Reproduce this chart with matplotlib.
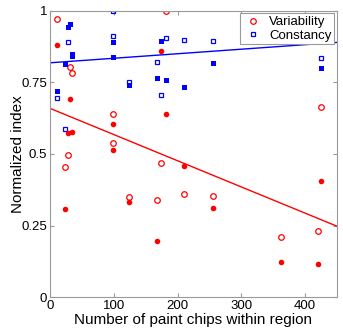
import numpy as np
import matplotlib
matplotlib.use('Agg')
import matplotlib.pyplot as plt

plt.rcParams['font.family'] = ['Liberation Sans', 'DejaVu Sans']

# region sizes (number of paint chips) and indices
var_open_x = [10.5, 24, 28, 31, 35, 98.5, 98.5, 124.5, 168, 174.5, 182, 210, 256, 362, 420, 424.5]
var_open_y = [0.971, 0.456, 0.496, 0.803, 0.782, 0.638, 0.539, 0.351, 0.339, 0.467, 1.0, 0.359, 0.354, 0.209, 0.230, 0.665]

var_fill_x = [10.5, 24, 28, 35, 31, 98.5, 98.5, 124.5, 168, 174.5, 182, 210, 256, 362, 420, 424.5]
var_fill_y = [0.880, 0.308, 0.572, 0.577, 0.692, 0.604, 0.515, 0.332, 0.197, 0.860, 0.639, 0.457, 0.310, 0.124, 0.115, 0.404]

con_open_x = [10.5, 24, 28, 98.5, 98.5, 124.5, 168, 174.5, 182, 210, 256, 424.5]
con_open_y = [0.694, 0.586, 0.891, 1.0, 0.912, 0.750, 0.820, 0.706, 0.903, 0.898, 0.895, 0.836]

con_fill_x = [10.5, 24, 28, 31, 35, 35, 98.5, 98.5, 124.5, 168, 174.5, 182, 210, 256, 424.5]
con_fill_y = [0.720, 0.813, 0.943, 0.954, 0.849, 0.843, 0.892, 0.839, 0.740, 0.764, 0.895, 0.759, 0.733, 0.818, 0.799]

# regression lines as drawn (slope, intercept)
var_fit = [-0.000913, 0.659]
con_fit = [0.000158, 0.818]

red = '#ff0000'
blue = '#0000ff'
grey = '#9a9a9a'

fig = plt.figure(figsize=(3.43, 3.32), dpi=100)
ax = fig.add_axes([0.146, 0.1045, 0.836, 0.8635])

ax.plot(var_open_x, var_open_y, 'o', mfc='none', mec=red, ms=4, mew=0.9, label='Variability')
ax.plot(con_open_x, con_open_y, 's', mfc='none', mec=blue, ms=3.3, mew=0.9, label='Constancy')
ax.plot(var_fill_x, var_fill_y, 'o', color=red, ms=4, mew=0)
ax.plot(con_fill_x, con_fill_y, 's', color=blue, ms=3.6, mew=0)

xx = np.array([0, 450])
ax.plot(xx, np.polyval(var_fit, xx), color=red, lw=1)
ax.plot(xx, np.polyval(con_fit, xx), color=blue, lw=1)

ax.set_xlim(0, 450)
ax.set_ylim(0, 1)
ax.set_xticks([0, 100, 200, 300, 400])
ax.set_yticks([0, 0.25, 0.5, 0.75, 1])
ax.set_yticklabels(['0', '0.25', '0.5', '0.75', '1'])
for s in ax.spines.values():
    s.set_color(grey)
ax.tick_params(direction='in', top=True, right=True, color=grey, length=3, labelsize=9.5, pad=2)
ax.set_xlabel('Number of paint chips within region', fontsize=11, labelpad=1)
ax.set_ylabel('Normalized index', fontsize=11)
ax.yaxis.set_label_coords(-0.087, 0.5)

leg = ax.legend(loc='upper right', fontsize=9.5, handletextpad=0.4, borderpad=0.2,
                labelspacing=0.1, handlelength=1.6, fancybox=False, framealpha=1,
                borderaxespad=0.2)
leg.get_frame().set_edgecolor(grey)
leg.get_frame().set_linewidth(0.8)

fig.savefig('out.png', dpi=100)
